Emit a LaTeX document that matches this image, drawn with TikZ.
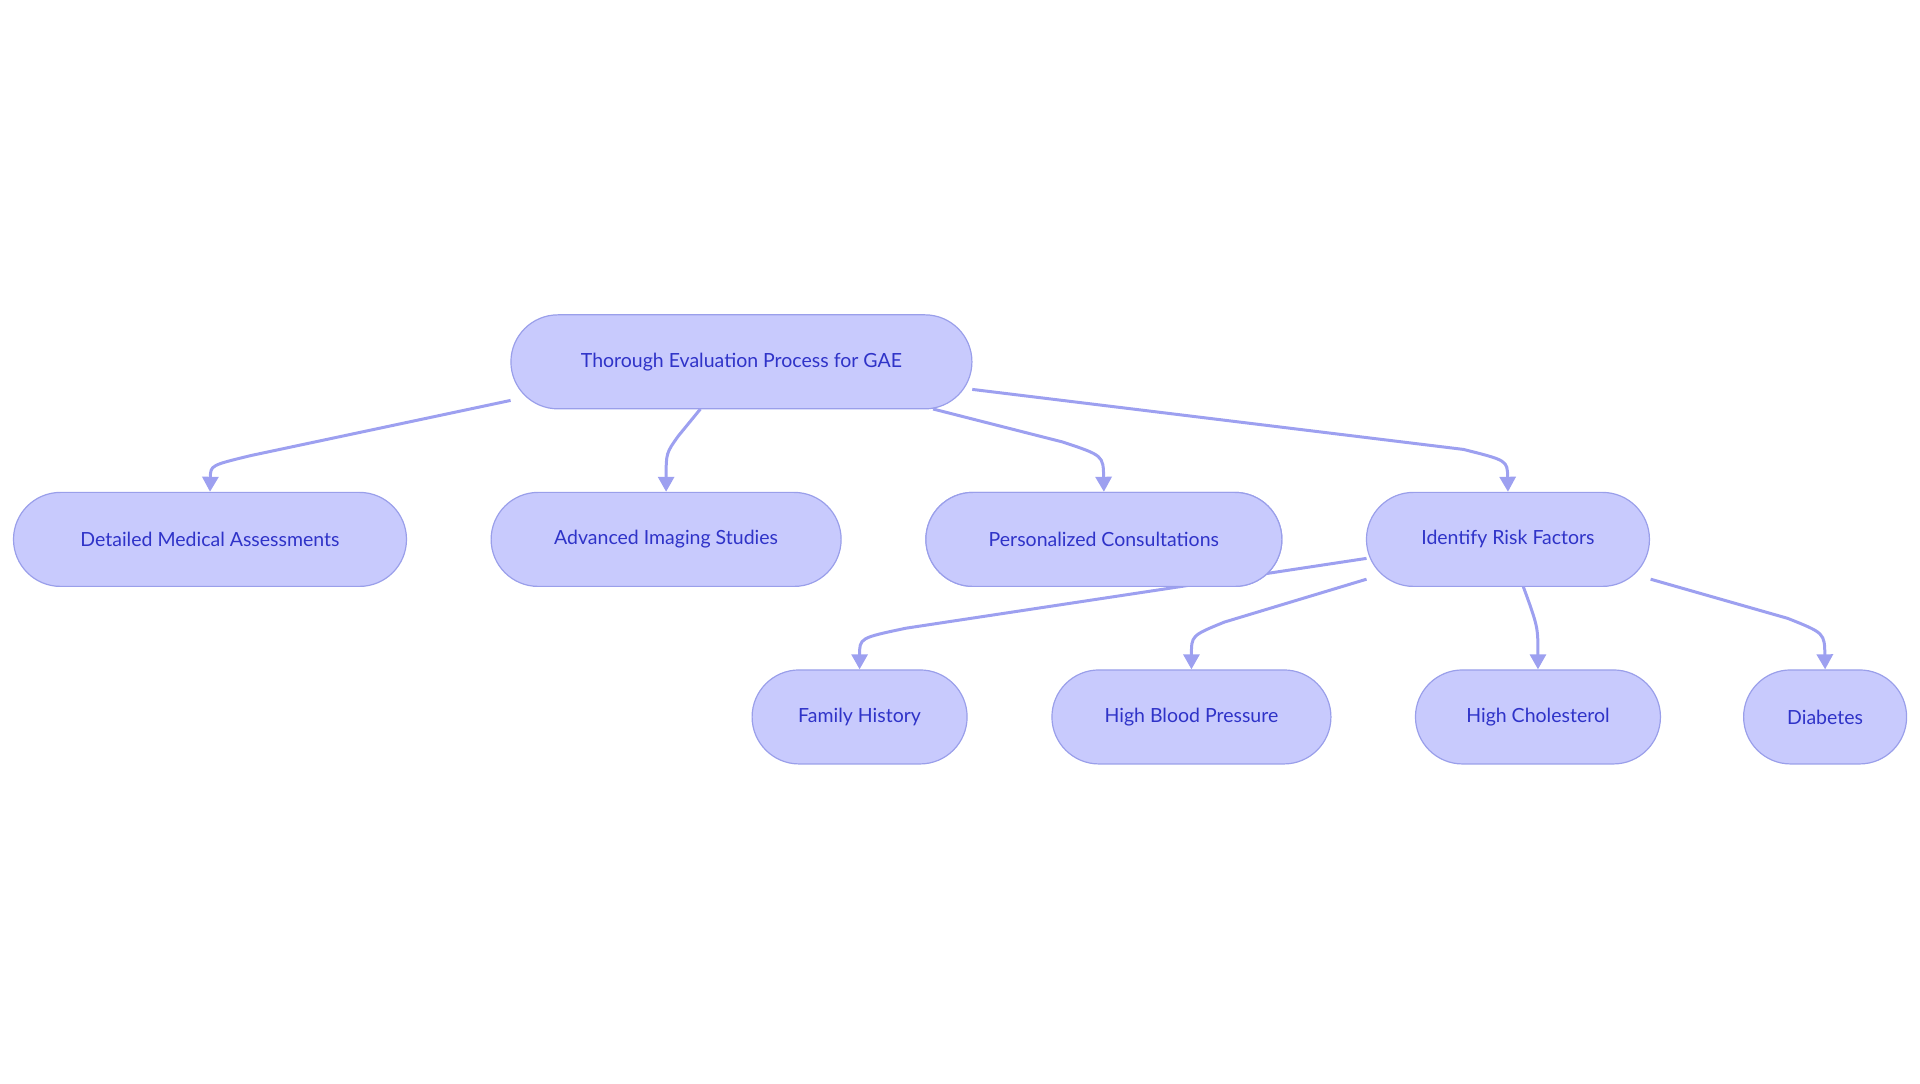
\documentclass[tikz,border=0pt]{standalone}
\usepackage{fontspec}
\setmainfont{Lato}
\usetikzlibrary{arrows.meta,shapes.misc}
\definecolor{nfill}{HTML}{C8CAFD}
\definecolor{ndraw}{HTML}{9A9FEA}
\definecolor{ntext}{HTML}{2F33C8}
\definecolor{edge}{HTML}{9DA0F0}
\begin{document}
\begin{tikzpicture}[x=1.2245pt,y=-1.2245pt,
  box/.style={rounded rectangle,fill=nfill,draw=ndraw,line width=1.2pt,minimum height=94pt,inner sep=0pt,text=ntext,font=\fontsize{19.5}{24}\selectfont},
  con/.style={draw=edge,line width=3pt,-{Triangle[width=16pt,length=15pt]}}]
\useasboundingbox (0,0) rectangle (1568,884.5);
\node[box,minimum width=461pt] (root) at (605.5,295.5) {Thorough Evaluation Process for GAE};
\node[box,minimum width=393pt] (det) at (171.5,440.5) {Detailed Medical Assessments};
\node[box,minimum width=350pt] (adv) at (544,440.5) {Advanced Imaging Studies};
\node[box,minimum width=356pt] (per) at (901.5,440.5) {Personalized Consultations};
\node[box,minimum width=283pt] (idf) at (1231.5,440.5) {Identify Risk Factors};
\node[box,minimum width=215pt] (fam) at (702,585.5) {Family History};
\node[box,minimum width=279pt] (hbp) at (973,585.5) {High Blood Pressure};
\node[box,minimum width=245pt] (hc) at (1256,585.5) {High Cholesterol};
\node[box,minimum width=163pt] (dia) at (1490.5,585.5) {Diabetes};
\coordinate (s1) at (417,327); \coordinate (s2) at (572,334);
\coordinate (s3) at (762,334); \coordinate (s4) at (794,318);
\coordinate (s5) at (1116,456); \coordinate (s6) at (1116,473);
\coordinate (s7) at (1244,479); \coordinate (s8) at (1348,473);
\begin{scope}[on background layer/.style={}]
\draw[con] (s5) -- (740,513) .. controls (702,521) .. (fam.north);
\end{scope}
\node[box,minimum width=356pt] at (per) {Personalized Consultations};
\draw[con] (s1) -- (205,372) .. controls (172,380) .. (det.north);
\draw[con] (s2) -- (554,356) .. controls (544,370) .. (adv.north);
\draw[con] (s3) -- (868,361) .. controls (901,372) .. (per.north);
\draw[con] (s4) -- (1195,367) .. controls (1231,376) .. (idf.north);
\draw[con] (s6) -- (1000,508) .. controls (973,519) .. (hbp.north);
\draw[con] (s7) .. controls (1256,512) .. (hc.north);
\draw[con] (s8) -- (1460,505) .. controls (1490,517) .. (dia.north);
\end{tikzpicture}
\end{document}
